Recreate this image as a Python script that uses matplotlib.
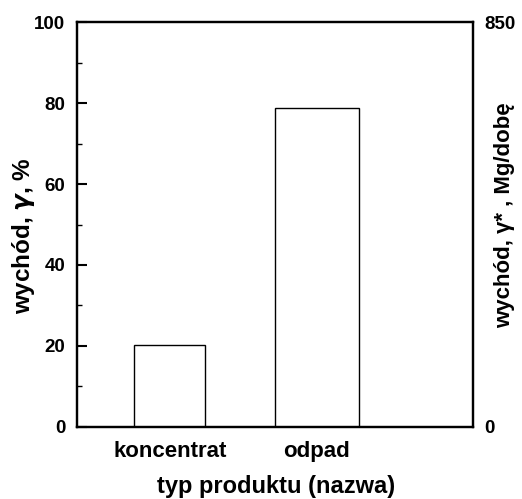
import matplotlib
matplotlib.use('Agg')
import matplotlib.pyplot as plt
from matplotlib.ticker import MultipleLocator

#Data
products = ['koncentrat', 'odpad']
yield_pct = [20.1, 78.8]
left_ticks = [0, 20, 40, 60, 80, 100]
right_ticks = [0, 850]

plt.rcParams['font.family'] = ['Liberation Sans', 'DejaVu Sans']
plt.rcParams['font.weight'] = 'bold'
plt.rcParams['font.size'] = 12

fig = plt.figure(figsize=(5.22, 4.99), dpi=100)
ax = fig.add_axes([0.148, 0.145, 0.758, 0.81])

#Bars (the two bars are drawn with slightly different widths in the original)
xpos = [1, 2]
ax.bar(xpos, yield_pct, width=[0.485, 0.576], color='white', edgecolor='black', linewidth=1.0)

ax.set_xlim(0.371, 3.061)
ax.set_ylim(0, 100)
ax.set_xticks(xpos)
ax.set_xticklabels(products, fontweight='bold', fontsize=16)
ax.set_yticks(left_ticks)
ax.yaxis.set_minor_locator(MultipleLocator(10))
ax.tick_params(axis='x', length=0, pad=10.5)
ax.tick_params(axis='y', which='major', direction='in', length=7, width=1.5, pad=8.5, labelsize=13.5)
ax.tick_params(axis='y', which='minor', direction='in', length=3.5, width=1)
for spine in ax.spines.values():
	spine.set_linewidth(1.6)

ax.set_xlabel('typ produktu (nazwa)', fontweight='bold', fontsize=17, va='center')
ax.xaxis.set_label_coords(0.503, -0.147)
ax.set_ylabel(r'wychód, $\gamma$, %', fontweight='bold', fontsize=17.5, va='center')
ax.yaxis.set_label_coords(-0.135, 0.472)

#Right axis in Mg/dobe
ax2 = ax.twinx()
ax2.set_ylim(0, 850)
ax2.set_yticks(right_ticks)
ax2.tick_params(axis='y', length=0, pad=8.5, labelsize=13.5)
ax2.set_ylabel('wychód, γ* , Mg/dobę', fontweight='bold', fontsize=16, va='center')
ax2.yaxis.set_label_coords(1.081, 0.522)
for spine in ax2.spines.values():
	spine.set_linewidth(1.6)

plt.savefig('out.png', dpi=100)
plt.close()
